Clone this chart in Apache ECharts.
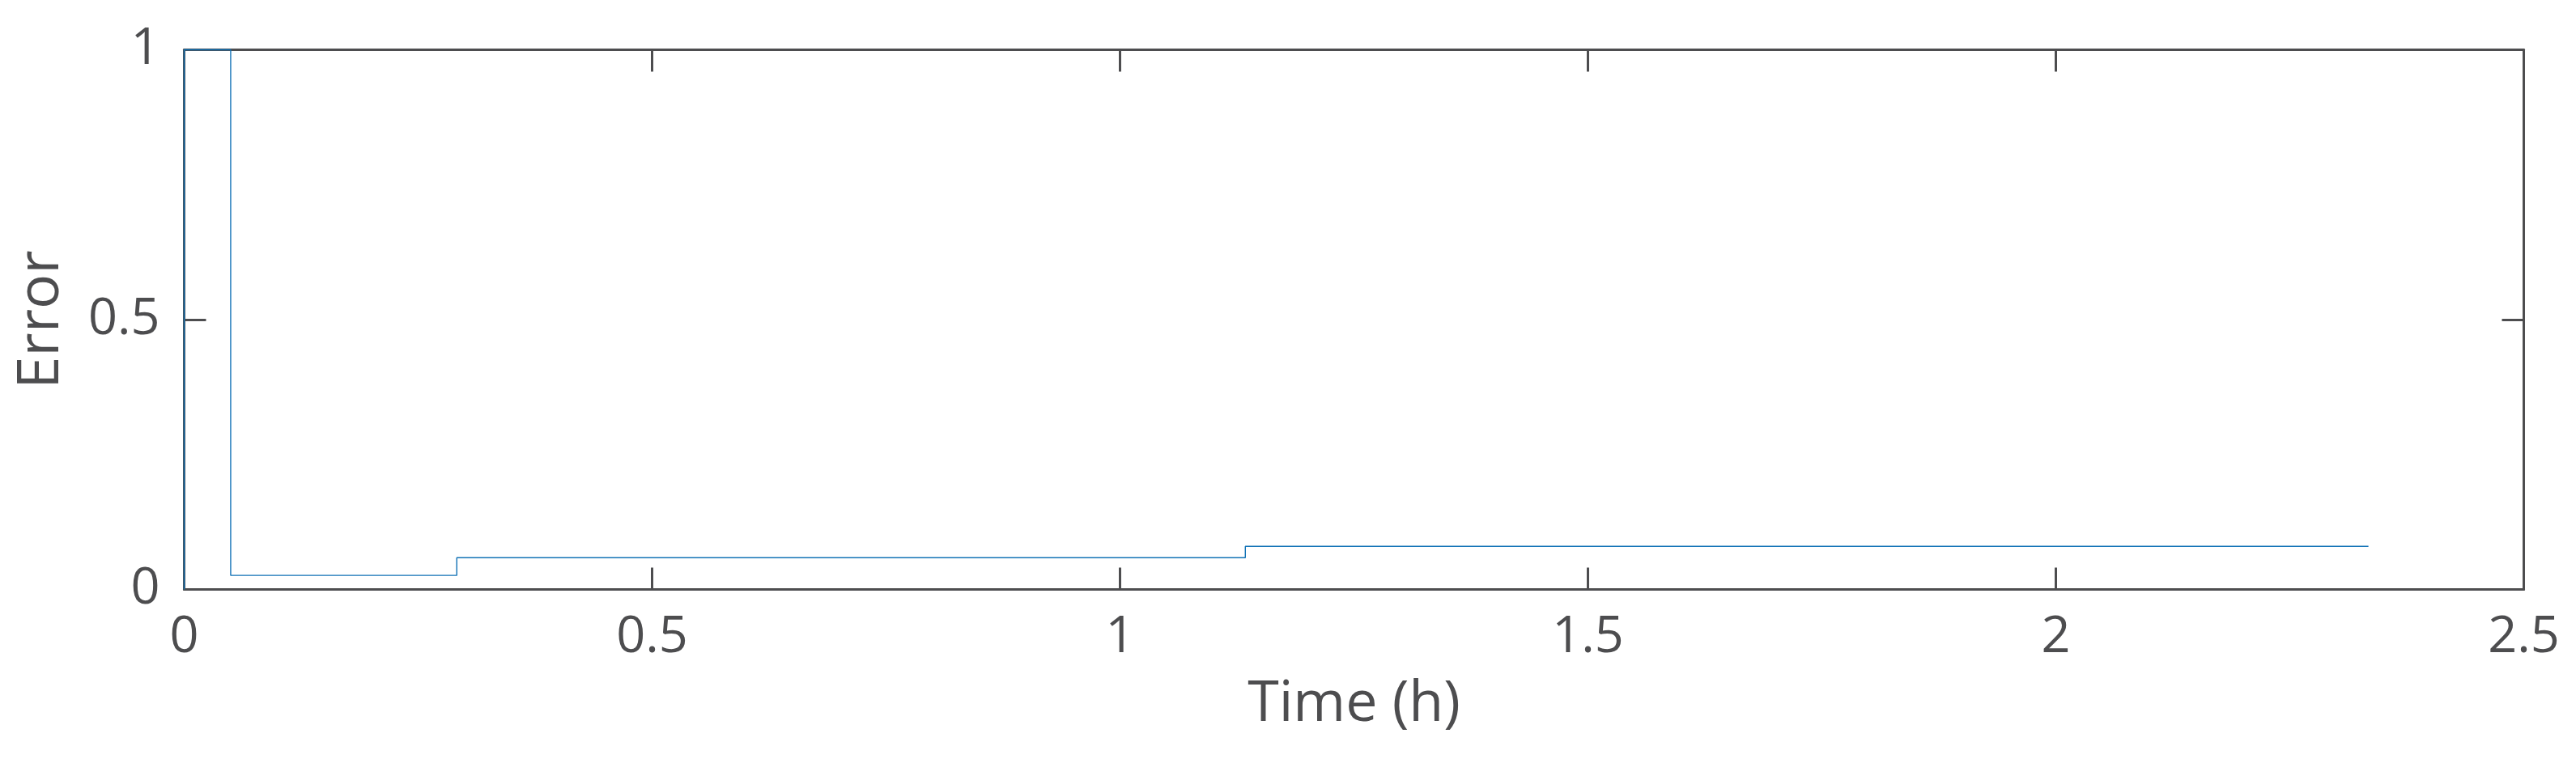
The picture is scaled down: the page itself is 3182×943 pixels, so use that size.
<!DOCTYPE html>
<html>
<head>
<meta charset="utf-8">
<script src="https://cdn.jsdelivr.net/npm/echarts@6/dist/echarts.min.js"></script>
<style>
html,body{margin:0;padding:0;background:#fff;}
#chart{width:3182px;height:943px;}
</style>
</head>
<body>
<div id="chart"></div>
<script>
// Data (stairs: value holds until next time)
const stepTimes = [0, 0, 0.0497, 0.2913, 1.1339, 2.334];
const errorValues = [0, 1, 0.026, 0.0588, 0.0798, 0.0798];
const xTicks = [0, 0.5, 1, 1.5, 2, 2.5];
const yTicks = [0, 0.5, 1];
const xName = 'Time (h)';
const yName = 'Error';

const axisColor = '#4d4d4f';
const font = '"Open Sans", "DejaVu Sans", sans-serif';

const xMin = xTicks[0], xMax = xTicks[xTicks.length - 1], xInt = xTicks[1] - xTicks[0];
const yMin = yTicks[0], yMax = yTicks[yTicks.length - 1], yInt = yTicks[1] - yTicks[0];

const lineData = stepTimes.map((t, i) => [t, errorValues[i]]);

function axisBase(min, max, interval) {
  return {
    type: 'value', min: min, max: max, interval: interval,
    axisLine: { show: true, onZero: false, lineStyle: { color: axisColor, width: 3 } },
    axisTick: { show: true, inside: true, length: 27, lineStyle: { color: axisColor, width: 3 } },
    splitLine: { show: false }
  };
}

const chart = echarts.init(document.getElementById('chart'), null, { renderer: 'canvas' });
chart.setOption({
  backgroundColor: '#ffffff',
  animation: false,
  grid: { left: 227.5, right: 64.5, top: 61.5, bottom: 214.5, containLabel: false },
  xAxis: [
    Object.assign(axisBase(xMin, xMax, xInt), {
      position: 'bottom',
      name: xName, nameLocation: 'middle', nameGap: 108,
      nameTextStyle: { fontFamily: font, fontSize: 70, color: axisColor },
      axisLabel: { show: true, margin: 28, fontFamily: font, fontSize: 63, color: axisColor,
        formatter: v => String(xTicks.find(t => Math.abs(t - v) < 1e-9) ?? v) }
    }),
    Object.assign(axisBase(xMin, xMax, xInt), {
      position: 'top', axisLabel: { show: false }
    })
  ],
  yAxis: [
    Object.assign(axisBase(yMin, yMax, yInt), {
      position: 'left',
      name: yName, nameLocation: 'middle', nameGap: 140, nameRotate: 90,
      nameTextStyle: { fontFamily: font, fontSize: 72, color: axisColor },
      axisLabel: { show: true, margin: 30, fontFamily: font, fontSize: 63, color: axisColor,
        formatter: v => String(yTicks.find(t => Math.abs(t - v) < 1e-9) ?? v) }
    }),
    Object.assign(axisBase(yMin, yMax, yInt), {
      position: 'right', axisLabel: { show: false }
    })
  ],
  series: [{
    type: 'line',
    data: lineData,
    step: 'end',
    showSymbol: false,
    symbol: 'none',
    clip: false,
    z: 5,
    lineStyle: { color: '#1172b6', width: 1.4 }
  }]
});
</script>
</body>
</html>
